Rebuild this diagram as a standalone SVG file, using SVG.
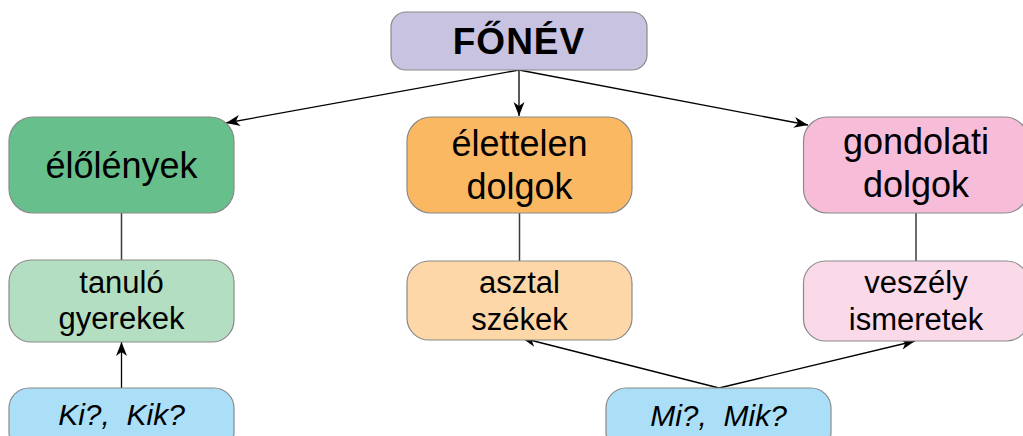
<svg xmlns="http://www.w3.org/2000/svg" width="1023" height="436" viewBox="0 0 1023 436">
<style>
.n{stroke:#8a8a8a;stroke-width:1.2}
.t{font-family:"Liberation Sans",Arial,sans-serif;fill:#000;text-anchor:middle}
.big{font-size:36px}
.mid{font-size:31px}
.it{font-size:30px;font-style:italic;white-space:pre}
.c{stroke:#000;stroke-width:1.3;fill:none}
.v{stroke:#3a3a3a;stroke-width:1.5;fill:none}
</style>
<defs>
<marker id="ah" markerUnits="userSpaceOnUse" markerWidth="16" markerHeight="12" refX="14" refY="5.5" orient="auto" viewBox="0 0 16 12">
<path d="M0,0 L14,5.5 L0,11 L4,5.5 Z" fill="#000"/>
</marker>
</defs>
<g id="connectors">
<line class="c" x1="519" y1="70" x2="226" y2="123" marker-end="url(#ah)"/>
<line class="c" x1="519" y1="70" x2="519" y2="116" marker-end="url(#ah)"/>
<line class="c" x1="519" y1="70" x2="808" y2="125" marker-end="url(#ah)"/>
<line class="v" x1="121.5" y1="213" x2="121.5" y2="260"/>
<line class="v" x1="519.5" y1="213" x2="519.5" y2="261"/>
<line class="v" x1="916" y1="213" x2="916" y2="261"/>
<line class="c" x1="121.5" y1="388" x2="121.5" y2="342" marker-end="url(#ah)"/>
<line class="c" x1="719" y1="388" x2="522" y2="338" marker-end="url(#ah)"/>
<line class="c" x1="719" y1="388" x2="915" y2="341" marker-end="url(#ah)"/>
</g>
<g id="fonev">
<rect class="n" x="391" y="12" width="256" height="58" rx="15" fill="#c8c3e1"/>
<text class="t" x="519" y="54" font-size="37" font-weight="bold" letter-spacing="1">FŐNÉV</text>
</g>
<g id="elolenyek">
<rect class="n" x="9" y="117" width="225" height="96" rx="24" fill="#67bf8b"/>
<text class="t big" x="121.5" y="178">élőlények</text>
</g>
<g id="elettelen">
<rect class="n" x="407" y="117" width="225" height="96" rx="24" fill="#fbb862"/>
<text class="t big" x="519.5" y="156">élettelen</text>
<text class="t big" x="519.5" y="199">dolgok</text>
</g>
<g id="gondolati">
<rect class="n" x="803.5" y="117" width="225" height="96" rx="24" fill="#f7bcd8"/>
<text class="t big" x="916" y="154">gondolati</text>
<text class="t big" x="916" y="197">dolgok</text>
</g>
<g id="tanulo">
<rect class="n" x="9" y="260" width="225" height="82" rx="22" fill="#b3dec1"/>
<text class="t mid" x="121.5" y="293">tanuló</text>
<text class="t mid" x="121.5" y="329">gyerekek</text>
</g>
<g id="asztal">
<rect class="n" x="407" y="261" width="225" height="79" rx="22" fill="#fdd7a7"/>
<text class="t mid" x="519.5" y="293">asztal</text>
<text class="t mid" x="519.5" y="330">székek</text>
</g>
<g id="veszely">
<rect class="n" x="803.5" y="261" width="225" height="80" rx="22" fill="#fad9e9"/>
<text class="t mid" x="916" y="293">veszély</text>
<text class="t mid" x="916" y="330">ismeretek</text>
</g>
<g id="kik">
<rect class="n" x="9" y="388" width="225" height="64" rx="20" fill="#abdff8"/>
<text class="t it" x="121.5" y="425" xml:space="preserve">Ki?,  Kik?</text>
</g>
<g id="mik">
<rect class="n" x="606" y="388" width="225" height="64" rx="20" fill="#abdff8"/>
<text class="t it" x="718.5" y="426" xml:space="preserve">Mi?,  Mik?</text>
</g>
</svg>
